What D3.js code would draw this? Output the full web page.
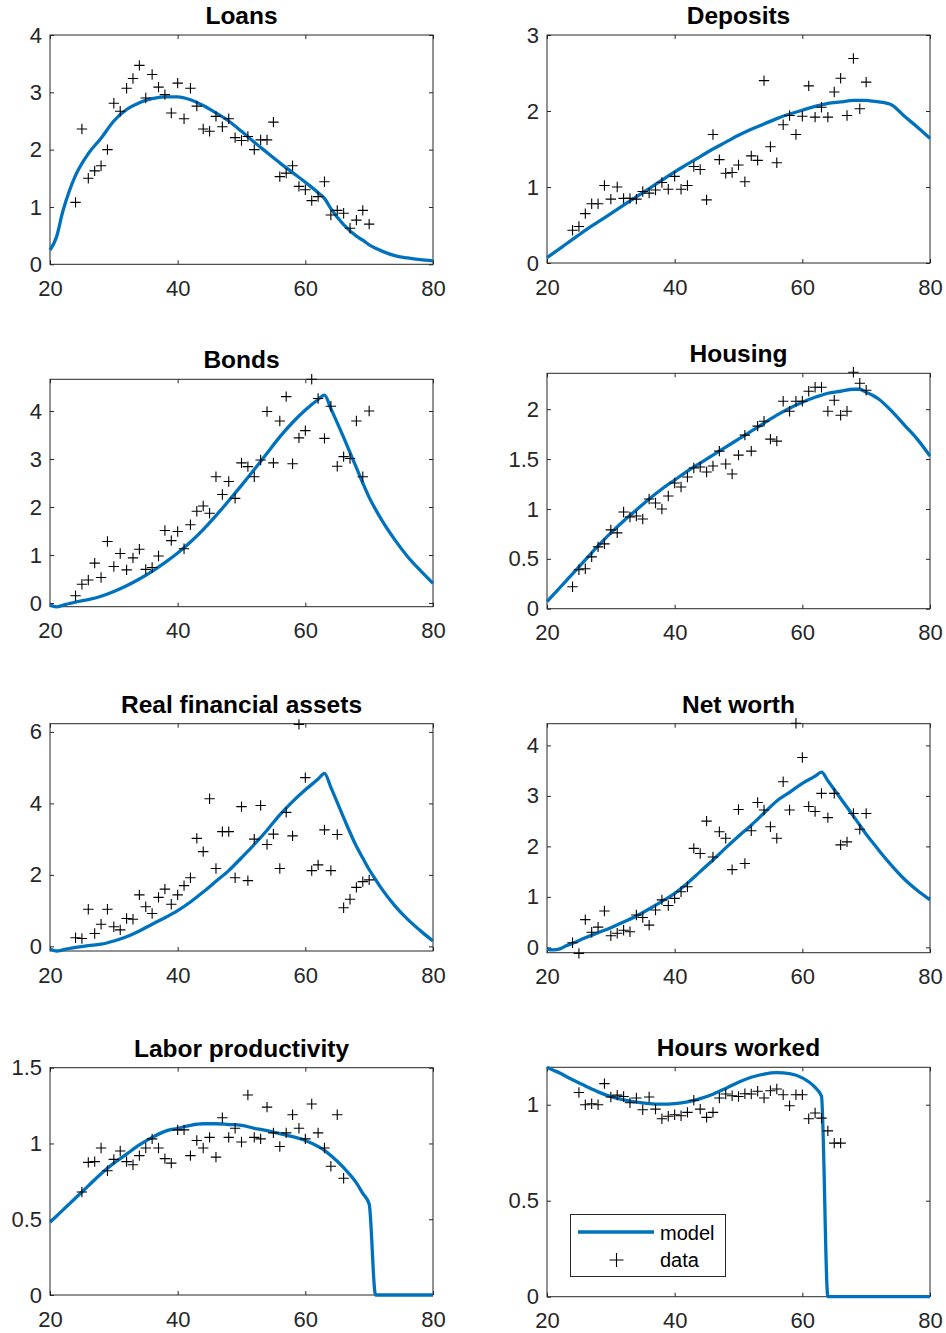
<!DOCTYPE html>
<html>
<head>
<meta charset="utf-8">
<script src="https://cdn.jsdelivr.net/npm/d3@7"></script>
<style>
  html, body { margin: 0; padding: 0; background: #fff; }
  svg { display: block; font-family: "Liberation Sans", Arial, Helvetica, sans-serif; }
</style>
</head>
<body>
<svg id="chart" width="946" height="1333"></svg>
<script>
// ---------------- DATA ----------------
const titles = ["Loans", "Deposits", "Bonds", "Housing", "Real financial assets", "Net worth", "Labor productivity", "Hours worked"];
const yDomains = [[0, 4], [0, 3], [-0.077, 4.66], [0, 2.36], [-0.13, 6.23], [-0.106, 4.43], [0, 1.5], [0, 1.195]];
const yTickValues = [[0, 1, 2, 3, 4], [0, 1, 2, 3], [0, 1, 2, 3, 4], [0, 0.5, 1, 1.5, 2], [0, 2, 4, 6], [0, 1, 2, 3, 4], [0, 0.5, 1, 1.5], [0, 0.5, 1]];
const xDomain = [20, 80];
const xTickValues = [20, 40, 60, 80];
const legendLabels = ["model", "data"];

// model ages (x of the model line)
const modelAges = [20, 21, 22, 23, 24, 26, 28, 30, 32, 34, 36, 38, 40, 42, 44, 46, 48, 50, 52, 54, 56, 58, 60, 62, 63, 64, 66, 68, 69, 70, 71, 72, 74, 76, 78, 80];

const modelLoans    = [0.25, 0.47, 0.92, 1.27, 1.55, 1.93, 2.2, 2.5, 2.7, 2.82, 2.89, 2.92, 2.92, 2.87, 2.77, 2.64, 2.5, 2.32, 2.13, 1.95, 1.77, 1.6, 1.43, 1.25, 1.15, 0.97, 0.69, 0.49, 0.42, 0.34, 0.28, 0.23, 0.15, 0.11, 0.08, 0.06];
const modelDeposits = [0.07, 0.13, 0.19, 0.25, 0.31, 0.43, 0.54, 0.65, 0.76, 0.87, 0.98, 1.09, 1.2, 1.3, 1.4, 1.5, 1.59, 1.68, 1.76, 1.83, 1.9, 1.96, 2.01, 2.06, 2.08, 2.1, 2.12, 2.14, 2.14, 2.14, 2.13, 2.12, 2.08, 1.93, 1.79, 1.64];
const modelBonds    = [-0.04, -0.08, -0.05, -0.01, 0.02, 0.07, 0.14, 0.24, 0.36, 0.5, 0.66, 0.84, 1.04, 1.27, 1.53, 1.82, 2.13, 2.45, 2.78, 3.12, 3.46, 3.76, 4.02, 4.24, 4.33, 4.05, 3.45, 2.82, 2.5, 2.2, 1.95, 1.72, 1.32, 0.97, 0.68, 0.41];
const modelHousing  = [0.07, 0.14, 0.21, 0.28, 0.35, 0.49, 0.63, 0.76, 0.88, 0.99, 1.1, 1.2, 1.29, 1.38, 1.46, 1.54, 1.62, 1.7, 1.78, 1.86, 1.94, 2.01, 2.07, 2.12, 2.14, 2.16, 2.18, 2.2, 2.2, 2.17, 2.14, 2.1, 1.98, 1.84, 1.7, 1.53];
const modelRFA      = [-0.07, -0.13, -0.1, -0.06, -0.03, 0.02, 0.06, 0.15, 0.27, 0.43, 0.62, 0.8, 1.0, 1.24, 1.52, 1.82, 2.12, 2.48, 2.85, 3.25, 3.68, 4.05, 4.38, 4.68, 4.84, 4.45, 3.6, 2.8, 2.47, 2.15, 1.87, 1.6, 1.14, 0.76, 0.44, 0.15];
const modelNetWorth = [-0.04, -0.05, -0.03, 0.03, 0.08, 0.19, 0.29, 0.39, 0.5, 0.62, 0.76, 0.91, 1.07, 1.27, 1.5, 1.73, 1.97, 2.2, 2.42, 2.66, 2.9, 3.07, 3.25, 3.39, 3.47, 3.3, 2.95, 2.6, 2.42, 2.24, 2.08, 1.92, 1.62, 1.35, 1.13, 0.94];
const modelLabor    = [0.48, 0.52, 0.56, 0.6, 0.64, 0.72, 0.8, 0.87, 0.93, 0.99, 1.04, 1.08, 1.1, 1.12, 1.13, 1.13, 1.125, 1.12, 1.1, 1.085, 1.065, 1.045, 1.02, 0.98, 0.955, 0.92, 0.84, 0.74, 0.67, 0.6, 0, 0, 0, 0, 0, 0];
const modelHours    = [1.195, 1.18, 1.165, 1.147, 1.13, 1.098, 1.067, 1.042, 1.025, 1.013, 1.006, 1.003, 1.006, 1.015, 1.032, 1.055, 1.085, 1.117, 1.143, 1.16, 1.167, 1.162, 1.14, 1.09, 1.045, 0, 0, 0, 0, 0, 0, 0, 0, 0, 0, 0];

// data ages
const agesWealth = [24, 25, 26, 27, 28, 29, 30, 31, 32, 33, 34, 35, 36, 37, 38, 39, 40, 41, 42, 43, 44, 45, 46, 47, 48, 49, 50, 51, 52, 53, 54, 55, 56, 57, 58, 59, 60, 61, 62, 63, 64, 65, 66, 67, 68, 69, 70];
const agesLabor  = [25, 26, 27, 28, 29, 30, 31, 32, 33, 34, 35, 36, 37, 38, 39, 40, 41, 42, 43, 44, 45, 46, 47, 48, 49, 50, 51, 52, 53, 54, 55, 56, 57, 58, 59, 60, 61, 62, 63, 64, 65, 66];

const dataLoans    = [1.08, 2.36, 1.50, 1.63, 1.72, 2.0, 2.81, 2.67, 3.07, 3.24, 3.47, 2.90, 3.31, 3.09, 2.96, 2.64, 3.16, 2.54, 3.07, 2.76, 2.36, 2.32, 2.58, 2.40, 2.54, 2.21, 2.16, 2.23, 2.0, 2.17, 2.17, 2.48, 1.53, 1.59, 1.72, 1.36, 1.30, 1.11, 1.18, 1.44, 0.86, 0.94, 0.89, 0.63, 0.77, 0.94, 0.70];
const dataDeposits = [0.43, 0.48, 0.65, 0.78, 0.78, 1.02, 0.84, 1.0, 0.85, 0.85, 0.84, 0.94, 0.92, 0.96, 1.06, 0.97, 1.14, 0.97, 1.02, 1.27, 1.23, 0.83, 1.69, 1.36, 1.18, 1.19, 1.29, 1.07, 1.41, 1.35, 2.40, 1.53, 1.32, 1.82, 1.94, 1.69, 1.93, 2.33, 1.92, 2.05, 1.92, 2.25, 2.43, 1.94, 2.69, 2.03, 2.38];
const dataBonds    = [0.15, 0.39, 0.48, 0.83, 0.53, 1.28, 0.76, 1.03, 0.69, 0.94, 1.12, 0.70, 0.74, 0.98, 1.51, 1.30, 1.49, 1.13, 1.63, 1.91, 2.02, 1.87, 2.63, 2.26, 2.53, 2.18, 2.92, 2.84, 2.63, 2.98, 3.99, 2.92, 3.79, 4.30, 2.90, 3.44, 3.59, 4.66, 4.26, 3.43, 4.10, 2.85, 3.05, 3.01, 3.79, 2.63, 4.0];
const dataHousing  = [0.22, 0.39, 0.40, 0.52, 0.62, 0.65, 0.79, 0.76, 0.97, 0.92, 0.93, 0.90, 1.10, 1.06, 1.0, 1.13, 1.26, 1.22, 1.32, 1.41, 1.42, 1.37, 1.43, 1.58, 1.45, 1.35, 1.54, 1.74, 1.58, 1.83, 1.88, 1.70, 1.68, 2.08, 1.98, 2.08, 2.08, 2.18, 2.22, 2.22, 1.98, 2.09, 1.94, 1.98, 2.37, 2.26, 2.19];
const dataRFA      = [0.24, 0.22, 1.04, 0.36, 0.62, 1.04, 0.55, 0.46, 0.78, 0.76, 1.44, 1.11, 0.92, 1.37, 1.60, 1.18, 1.44, 1.70, 1.92, 3.02, 2.65, 4.13, 2.18, 3.21, 3.21, 1.92, 3.91, 1.84, 3.0, 3.94, 2.85, 3.14, 2.18, 3.75, 3.09, 6.21, 4.72, 2.12, 2.28, 3.26, 2.12, 3.13, 1.08, 1.32, 1.65, 1.81, 1.86];
const dataNetWorth = [0.09, -0.12, 0.55, 0.30, 0.40, 0.72, 0.23, 0.28, 0.34, 0.31, 0.64, 0.59, 0.44, 0.74, 0.94, 0.83, 0.97, 1.10, 1.20, 1.96, 1.86, 2.50, 1.79, 2.29, 2.16, 1.54, 2.73, 1.66, 2.31, 2.87, 2.72, 2.39, 2.16, 3.28, 2.72, 4.44, 3.76, 2.79, 2.69, 3.05, 2.57, 3.05, 2.03, 2.09, 2.65, 2.34, 2.65];
const dataLabor    = [0.68, 0.875, 0.88, 0.97, 0.82, 0.895, 0.95, 0.88, 0.86, 0.92, 0.97, 1.03, 0.97, 0.90, 0.87, 1.09, 1.09, 0.92, 1.02, 0.97, 1.04, 0.91, 1.17, 1.04, 1.10, 1.01, 1.32, 1.04, 1.03, 1.24, 1.07, 0.98, 1.07, 1.19, 1.10, 1.03, 1.26, 1.07, 0.97, 0.85, 1.19, 0.77];
const dataHours    = [1.064, 1.0, 1.005, 1.0, 1.11, 1.04, 1.05, 1.043, 1.01, 1.035, 0.974, 1.04, 0.977, 0.927, 0.94, 0.948, 0.943, 0.96, 1.023, 0.977, 0.934, 0.96, 1.035, 1.056, 1.047, 1.043, 1.057, 1.056, 1.07, 1.035, 1.073, 1.082, 1.052, 0.995, 1.052, 1.052, 0.927, 0.957, 0.93, 0.864, 0.8, 0.8];

const modelSeries = [modelLoans, modelDeposits, modelBonds, modelHousing, modelRFA, modelNetWorth, modelLabor, modelHours];
const dataSeries = [dataLoans, dataDeposits, dataBonds, dataHousing, dataRFA, dataNetWorth, dataLabor, dataHours];
const dataAges = [agesWealth, agesWealth, agesWealth, agesWealth, agesWealth, agesWealth, agesLabor, agesLabor];

// ---------------- LAYOUT / STYLE ----------------
const boxes = [
  { x0: 50,  x1: 433, y0: 35,     y1: 264.3 },
  { x0: 547, x1: 930, y0: 35,     y1: 263 },
  { x0: 50,  x1: 433, y0: 379.3,  y1: 606.7 },
  { x0: 547, x1: 930, y0: 373.3,  y1: 608.7 },
  { x0: 50,  x1: 433, y0: 723.7,  y1: 951 },
  { x0: 547, x1: 930, y0: 723.7,  y1: 952.7 },
  { x0: 50,  x1: 433, y0: 1067.7, y1: 1295 },
  { x0: 547, x1: 930, y0: 1067.3, y1: 1296.7 }
];
const axisColor = "#262626";
const lineColor = "#0072BD";
const tickFont = 22;
const titleFont = 24.5;

const svg = d3.select("#chart");
svg.append("rect").attr("width", 946).attr("height", 1333).attr("fill", "#fff");

const fmt = v => String(v);
const plusPath = s => `M${-s},0H${s}M0,${-s}V${s}`;

titles.forEach((title, i) => {
  const b = boxes[i];
  const x = d3.scaleLinear().domain(xDomain).range([b.x0, b.x1]);
  const y = d3.scaleLinear().domain(yDomains[i]).range([b.y1, b.y0]);
  const g = svg.append("g");

  // axes with inward ticks
  const styleAxis = sel => {
    sel.select(".domain").remove();
    sel.selectAll(".tick line").attr("stroke", axisColor).attr("stroke-width", 1);
    sel.selectAll(".tick text").attr("fill", axisColor).attr("font-size", tickFont)
      .attr("font-family", "Liberation Sans, Arial, Helvetica, sans-serif");
  };
  g.append("g").attr("transform", `translate(0,${b.y1})`)
    .call(d3.axisBottom(x).tickValues(xTickValues).tickFormat(fmt).tickSize(-4).tickPadding(16))
    .call(styleAxis);
  g.append("g").attr("transform", `translate(0,${b.y0})`)
    .call(d3.axisTop(x).tickValues(xTickValues).tickFormat("").tickSize(-4))
    .call(styleAxis);
  g.append("g").attr("transform", `translate(${b.x0},0)`)
    .call(d3.axisLeft(y).tickValues(yTickValues[i]).tickFormat(fmt).tickSize(-4).tickPadding(8))
    .call(styleAxis);
  g.append("g").attr("transform", `translate(${b.x1},0)`)
    .call(d3.axisRight(y).tickValues(yTickValues[i]).tickFormat("").tickSize(-4))
    .call(styleAxis);

  // box
  g.append("rect")
    .attr("x", b.x0).attr("y", b.y0)
    .attr("width", b.x1 - b.x0).attr("height", b.y1 - b.y0)
    .attr("fill", "none").attr("stroke", axisColor).attr("stroke-width", 1);

  // model line
  const line = d3.line().x((d, k) => x(modelAges[k])).y(d => y(d)).curve(d3.curveMonotoneX);
  g.append("path")
    .datum(modelSeries[i])
    .attr("d", line)
    .attr("fill", "none")
    .attr("stroke", lineColor)
    .attr("stroke-width", 3.3)
    .attr("stroke-linejoin", "round");

  // data markers
  g.append("g").selectAll("path")
    .data(dataSeries[i])
    .join("path")
    .attr("transform", (d, k) => `translate(${x(dataAges[i][k])},${y(d)})`)
    .attr("d", plusPath(5.2))
    .attr("fill", "none")
    .attr("stroke", "#000")
    .attr("stroke-width", 1.1);

  // title
  svg.append("text")
    .attr("x", (b.x0 + b.x1) / 2)
    .attr("y", b.y0 - 11)
    .attr("text-anchor", "middle")
    .attr("font-size", titleFont)
    .attr("font-weight", "bold")
    .attr("fill", "#000")
    .text(title);

  // legend in last panel
  if (i === titles.length - 1) {
    const lg = svg.append("g");
    lg.append("rect")
      .attr("x", 570.5).attr("y", 1214.5).attr("width", 155).attr("height", 62)
      .attr("fill", "#fff").attr("stroke", axisColor).attr("stroke-width", 1);
    lg.append("line")
      .attr("x1", 578).attr("x2", 654).attr("y1", 1232).attr("y2", 1232)
      .attr("stroke", lineColor).attr("stroke-width", 3.3);
    lg.append("path")
      .attr("transform", "translate(616.5,1260)")
      .attr("d", plusPath(7))
      .attr("stroke", "#000").attr("stroke-width", 1.1);
    lg.selectAll("text.lbl")
      .data(legendLabels)
      .join("text")
      .attr("class", "lbl")
      .attr("x", 660)
      .attr("y", (d, k) => 1239.5 + k * 27.7)
      .attr("font-size", 20)
      .attr("fill", "#000")
      .text(d => d);
  }
});
</script>
</body>
</html>
